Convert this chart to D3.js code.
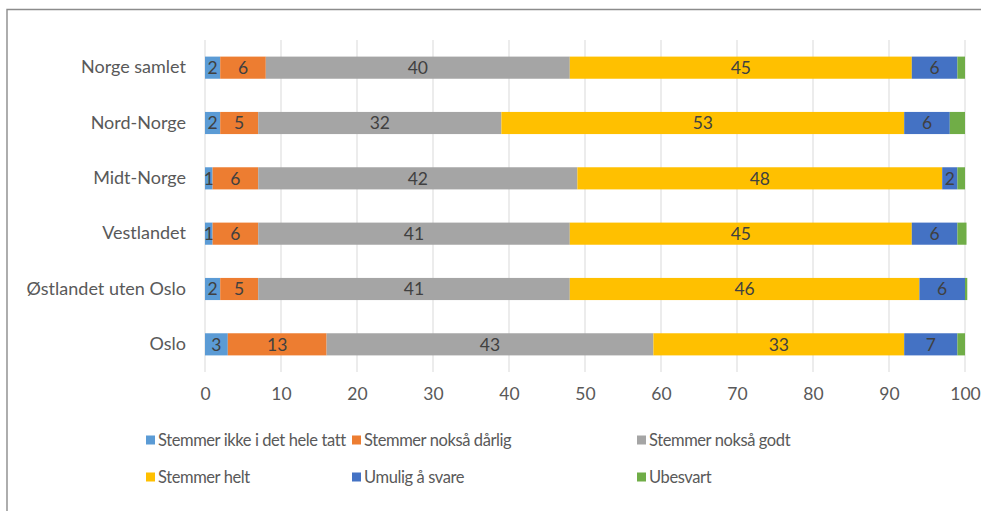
<!DOCTYPE html>
<html><head><meta charset="utf-8">
<script src="https://cdn.jsdelivr.net/npm/d3@7"></script>
<style>body{margin:0;background:#fff}svg{display:block;font-family:Lato,"Open Sans",sans-serif}</style>
</head><body>
<script>
const categories = ["Norge samlet","Nord-Norge","Midt-Norge","Vestlandet","Østlandet uten Oslo","Oslo"];
const seriesNames = ["Stemmer ikke i det hele tatt","Stemmer nokså dårlig","Stemmer nokså godt","Stemmer helt","Umulig å svare","Ubesvart"];
const seriesColors = ["#5B9BD5","#ED7D31","#A5A5A5","#FFC000","#4472C4","#70AD47"];
const ikkeIDetHeleTatt = [2,2,1,1,2,3];
const noksaDarlig     = [6,5,6,6,5,13];
const noksaGodt       = [40,32,42,41,41,43];
const helt            = [45,53,48,45,46,33];
const umulig          = [6,6,2,6,6,7];
const ubesvart        = [1,2,1,1.2,0.3,1];
const xTicks = [0,10,20,30,40,50,60,70,80,90,100];

const seriesValues = [ikkeIDetHeleTatt,noksaDarlig,noksaGodt,helt,umulig,ubesvart];
const showLabel = [true,true,true,true,true,false];

const W=981,H=511;
const svg=d3.select("body").append("svg").attr("width",W).attr("height",H);
svg.append("path").attr("d",`M7,${H+2}V9.5H${W+2}`).attr("fill","none").attr("stroke","#8c8c8c").attr("stroke-width",1.4);

const x=d3.scaleLinear().domain([0,100]).range([205,965]);
const y=d3.scaleBand().domain(categories).range([40,372]).paddingInner(0.6).paddingOuter(0.3);

svg.append("g").selectAll("line").data(xTicks).join("line")
  .attr("x1",d=>x(d)).attr("x2",d=>x(d)).attr("y1",40).attr("y2",372)
  .attr("stroke","#d9d9d9").attr("stroke-width",1);

const xa=svg.append("g").attr("transform","translate(0,372)").call(d3.axisBottom(x).tickValues(xTicks).tickSize(0).tickPadding(16));
xa.select(".domain").remove();
xa.selectAll("text").attr("font-size",17.5).attr("fill","#595959").attr("font-family","Lato,sans-serif");

const ya=svg.append("g").attr("transform","translate(205,0)").call(d3.axisLeft(y).tickSize(0).tickPadding(19));
ya.select(".domain").remove();
ya.selectAll("text").attr("font-size",18).attr("fill","#595959").attr("font-family","Lato,sans-serif");

const rows=categories.map((c,i)=>{const o={cat:c};seriesNames.forEach((s,j)=>o[s]=seriesValues[j][i]);return o;});
const stack=d3.stack().keys(seriesNames)(rows);
stack.forEach((layer,j)=>{
  const g=svg.append("g");
  g.selectAll("rect").data(layer).join("rect")
    .attr("x",d=>x(d[0])).attr("width",d=>x(d[1])-x(d[0]))
    .attr("y",d=>y(d.data.cat)).attr("height",y.bandwidth())
    .attr("fill",seriesColors[j]);
  if(showLabel[j]){
    g.selectAll("text").data(layer).join("text")
      .attr("x",d=>(x(d[0])+x(d[1]))/2).attr("y",d=>y(d.data.cat)+y.bandwidth()/2)
      .attr("dy","0.36em").attr("text-anchor","middle").attr("font-size",17.5)
      .attr("fill","#404040").text(d=>d[1]-d[0]>0?Math.round(d[1]-d[0]):"");
  }
});

const legX=[146,352,637], legY=[440,477];
const leg=svg.append("g");
seriesNames.forEach((s,i)=>{
  const lx=legX[i%3], ly=legY[Math.floor(i/3)];
  leg.append("rect").attr("x",lx).attr("y",ly-4.5).attr("width",9).attr("height",9).attr("fill",seriesColors[i]);
  leg.append("text").attr("x",lx+12).attr("y",ly).attr("dy","0.36em").attr("font-size",16.5).attr("letter-spacing",-0.4).attr("fill","#595959").text(s);
});
</script>
</body></html>
